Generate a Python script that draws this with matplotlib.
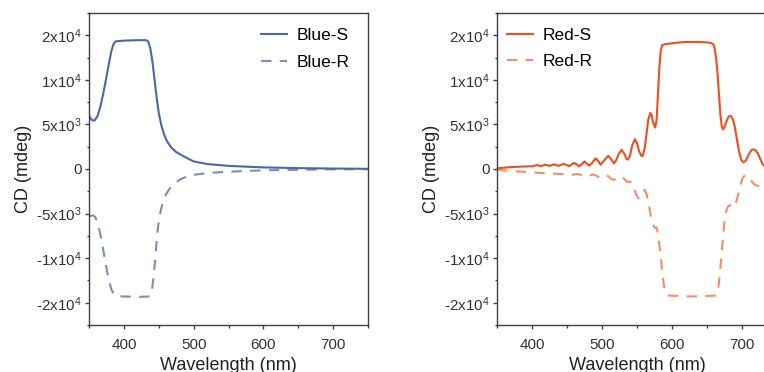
import matplotlib
matplotlib.use("Agg")
import matplotlib.pyplot as plt
from matplotlib.ticker import MultipleLocator, FixedLocator

plt.rcParams['font.family'] = ['Liberation Sans', 'DejaVu Sans']
plt.rcParams['mathtext.fontset'] = 'custom'
plt.rcParams['mathtext.rm'] = 'Liberation Sans'
plt.rcParams['mathtext.it'] = 'Liberation Sans:italic'

# Blue sample (left panel)
blue_wl = [350, 352, 355, 358, 362, 366, 370, 374, 378, 382, 385, 388, 392, 400,
           420, 432, 435, 438, 441, 444, 447, 450, 454, 458, 462, 468, 475, 485,
           500, 520, 550, 600, 650, 700, 750]
blue_s = [6100, 5700, 5450, 5450, 5900, 6900, 8300, 9900, 11600, 13200, 14000,
          14300, 14350, 14400, 14450, 14450, 14300, 13500, 12000, 10000, 8000,
          6300, 4800, 3800, 3100, 2400, 1900, 1450, 850, 550, 350, 180, 100, 50, 20]
blue_r_wl = [350, 353, 356, 359, 362, 366, 370, 374, 378, 382, 386, 390, 400, 420,
             437, 440, 442, 444, 446, 448, 450, 453, 456, 460, 466, 473, 480, 490,
             500, 520, 550, 600, 650, 700, 750]
blue_r = [-5300, -5250, -5200, -5400, -6000, -7200, -8900, -10700, -12300, -13500,
          -14100, -14250, -14300, -14350, -14300, -13700, -12500, -10900, -9000,
          -7200, -5900, -4600, -3700, -2900, -2150, -1600, -1200, -850, -650, -450,
          -300, -150, -80, -40, -20]

# Red sample (right panel)
red_wl = [350, 356, 362, 368, 374, 380, 386, 392, 398, 401, 404, 407, 410, 413,
          416, 419, 422, 425, 428, 431, 434, 438, 441, 445, 449, 453, 456, 460,
          464, 467, 471, 475, 478, 482, 486, 491, 495, 498, 503, 509, 513, 517,
          520, 524, 528, 532, 535, 537, 540, 543, 547, 550, 553, 556, 558, 561,
          564, 566, 569, 571, 573, 576, 578, 580, 582, 584, 586, 590, 595, 600,
          610, 620, 640, 650, 655, 659, 661, 663, 665, 667, 669, 671, 673, 675,
          678, 681, 684, 687, 690, 693, 696, 699, 702, 705, 708, 711, 714, 717,
          720, 723, 726, 729, 732, 735]
red_s = [80, 120, 160, 200, 230, 250, 270, 290, 300, 300, 380, 430, 380, 330,
         400, 480, 420, 350, 430, 520, 450, 360, 450, 580, 460, 320, 480, 680,
         500, 300, 540, 850, 620, 380, 700, 1200, 850, 480, 950, 1480, 1100, 640,
         950, 1700, 2150, 1700, 1150, 1050, 1500, 2600, 3350, 2900, 2000, 1500,
         1450, 2300, 4200, 5500, 6300, 6000, 5200, 4650, 5500, 8500, 11500, 13300,
         13900, 14000, 14050, 14100, 14200, 14250, 14250, 14200, 14150, 14000,
         13500, 12500, 10800, 8500, 6200, 4800, 4450, 4700, 5400, 5900, 5950,
         5600, 4600, 3200, 1900, 1000, 750, 900, 1350, 1850, 2150, 2200, 2050,
         1700, 1150, 600, 350, 150]
red_r_wl = [350, 360, 370, 380, 390, 400, 410, 420, 430, 440, 450, 458, 464, 470,
            476, 481, 486, 491, 496, 500, 504, 509, 514, 518, 522, 526, 531, 536,
            540, 543, 546, 549, 552, 555, 558, 561, 564, 567, 570, 573, 576, 578,
            580, 583, 586, 589, 592, 596, 610, 630, 650, 662, 665, 667, 669, 671,
            673, 675, 677, 680, 683, 686, 689, 692, 695, 698, 701, 704, 707, 711,
            715, 719, 723, 726, 729, 732, 735]
red_r = [-50, -150, -210, -270, -320, -380, -430, -480, -520, -560, -600, -650,
         -560, -650, -880, -800, -620, -700, -950, -800, -650, -800, -1150, -1200,
         -900, -850, -1050, -1450, -1400, -1600, -2200, -2900, -3300, -3100, -2500,
         -2350, -2900, -4000, -5400, -6300, -6600, -6550, -7300, -9200, -11500,
         -13400, -14100, -14200, -14250, -14300, -14250, -14200, -13800, -12800,
         -11200, -9300, -7500, -5900, -4800, -4200, -4050, -4300, -4200, -3600,
         -2700, -1700, -1000, -700, -750, -1100, -1500, -1800, -1900, -1850,
         -1650, -1400, -1200]

ytick_vals = [-15000, -10000, -5000, 0, 5000, 10000, 15000]
ytick_labels = ['-2x10$^4$', '-1x10$^4$', '-5x10$^3$', '0',
                '5x10$^3$', '1x10$^4$', '2x10$^4$']
xtick_vals = [400, 500, 600, 700]

blue = '#4a68a8'
red = '#f04e1e'
spine_col = '#404040'

fig = plt.figure(figsize=(7.64, 3.72), dpi=100)
ax1 = fig.add_axes([89 / 764, 47 / 372, 279 / 764, 312 / 372])
ax2 = fig.add_axes([497 / 764, 47 / 372, 280 / 764, 312 / 372])


def style(ax):
    ax.set_xlim(350, 750)
    ax.set_ylim(-17500, 17500)
    ax.xaxis.set_major_locator(FixedLocator(xtick_vals))
    ax.xaxis.set_minor_locator(MultipleLocator(50))
    ax.yaxis.set_major_locator(FixedLocator(ytick_vals))
    ax.yaxis.set_minor_locator(MultipleLocator(2500))
    ax.set_yticklabels(ytick_labels)
    ax.tick_params(which='both', direction='out', color=spine_col,
                   labelcolor='#333333', labelsize=11, width=1.0)
    ax.tick_params(which='major', length=3.2)
    ax.tick_params(which='minor', length=1.8)
    ax.tick_params(axis='y', pad=2)
    ax.tick_params(axis='x', pad=6)
    for s in ax.spines.values():
        s.set_color(spine_col)
        s.set_linewidth(1.0)
    ax.set_xlabel('Wavelength (nm)', fontsize=13, color='#222222', labelpad=4)
    ax.set_ylabel('CD (mdeg)', fontsize=13, color='#222222', labelpad=3)


style(ax1)
ax1.plot(blue_wl, blue_s, color=blue, lw=1.5, label='Blue-S')
ax1.plot(blue_r_wl, blue_r, color=blue, lw=1.5, alpha=0.75, dashes=(5, 4),
         label='Blue-R')
ax1.legend(loc='upper left', bbox_to_anchor=(260.7 / 764, 0.925),
           bbox_transform=fig.transFigure, frameon=False, fontsize=12.5,
           handlelength=1.5, handletextpad=0.55, labelspacing=0.7,
           borderpad=0, borderaxespad=0)

style(ax2)
ax2.plot(red_wl, red_s, color=red, lw=1.5, label='Red-S')
ax2.plot(red_r_wl, red_r, color=red, lw=1.5, alpha=0.65, dashes=(5, 4),
         label='Red-R')
ax2.legend(loc='upper left', bbox_to_anchor=(507.3 / 764, 0.925),
           bbox_transform=fig.transFigure, frameon=False, fontsize=12.5,
           handlelength=1.5, handletextpad=0.55, labelspacing=0.6,
           borderpad=0, borderaxespad=0)

fig.savefig('out.png', dpi=100)
